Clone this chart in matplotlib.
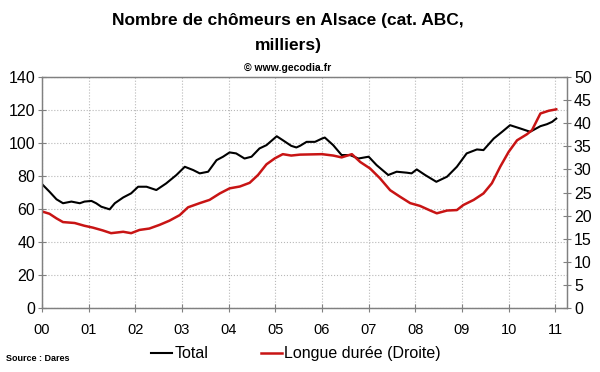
# Chômeurs en Alsace : total (gauche) et longue durée (droite)

import matplotlib.pyplot as plt

plt.rcParams['font.family'] = ['Liberation Sans', 'DejaVu Sans']

# Total, milliers (axe gauche), x en années depuis janvier 2000
total_x = [0.0, 0.16, 0.31, 0.45, 0.63, 0.81, 0.91, 1.06, 1.16, 1.27, 1.45, 1.56,
           1.74, 1.91, 2.06, 2.24, 2.45, 2.66, 2.88, 3.06, 3.24, 3.38, 3.56, 3.74,
           3.88, 4.02, 4.16, 4.34, 4.49, 4.66, 4.81, 5.03, 5.16, 5.34, 5.45, 5.53,
           5.67, 5.85, 6.0, 6.06, 6.24, 6.42, 6.6, 6.78, 7.0, 7.17, 7.42, 7.6,
           7.82, 7.92, 8.03, 8.21, 8.45, 8.68, 8.89, 9.1, 9.32, 9.46, 9.68, 9.86,
           10.03, 10.25, 10.46, 10.68, 10.82, 10.93, 11.02]
total = [75.1, 70.5, 65.9, 63.5, 64.5, 63.5, 64.5, 64.9, 63.5, 61.4, 59.8, 63.5,
         67.0, 69.5, 73.5, 73.5, 71.5, 75.5, 80.6, 85.6, 83.6, 81.6, 82.6, 89.6,
         91.7, 94.3, 93.7, 90.6, 91.7, 96.7, 98.7, 104.1, 101.7, 98.3, 97.3, 98.3,
         100.7, 100.7, 102.7, 103.3, 98.7, 92.7, 92.7, 90.6, 91.7, 86.6, 80.6, 82.6,
         82.0, 81.6, 84.0, 80.6, 76.5, 79.6, 85.6, 93.7, 96.1, 95.7, 102.7, 106.8,
         110.8, 108.8, 106.8, 110.2, 111.4, 112.8, 114.8]

# Longue durée, milliers (axe droit)
ld_x = [0.0, 0.16, 0.31, 0.45, 0.7, 0.91, 1.09, 1.3, 1.48, 1.74, 1.91, 2.09,
        2.3, 2.52, 2.73, 2.95, 3.13, 3.38, 3.59, 3.81, 4.02, 4.24, 4.45, 4.63,
        4.81, 4.99, 5.16, 5.34, 5.53, 6.0, 6.24, 6.42, 6.64, 6.82, 7.03, 7.24,
        7.46, 7.67, 7.89, 8.1, 8.32, 8.46, 8.68, 8.89, 9.03, 9.25, 9.46, 9.64,
        9.82, 10.0, 10.18, 10.39, 10.5, 10.68, 10.86, 11.02]
longue_duree = [20.9, 20.4, 19.4, 18.6, 18.4, 17.8, 17.4, 16.8, 16.2, 16.5, 16.2, 16.9,
                17.2, 18.0, 18.9, 20.1, 21.8, 22.7, 23.4, 24.8, 25.9, 26.3, 27.1, 28.8,
                31.1, 32.4, 33.3, 33.0, 33.2, 33.3, 33.0, 32.6, 33.3, 31.6, 30.2, 28.1,
                25.5, 24.1, 22.7, 22.1, 21.1, 20.5, 21.1, 21.2, 22.3, 23.4, 24.8, 27.0,
                30.6, 33.8, 36.3, 37.6, 38.5, 42.1, 42.7, 43.0]

year_labels = ['00', '01', '02', '03', '04', '05', '06', '07', '08', '09', '10', '11']

fig = plt.figure(figsize=(6, 3.72), dpi=100)
ax = fig.add_axes([0.07, 0.172, 0.875, 0.621])
ax2 = ax.twinx()

l1, = ax.plot(total_x, total, color='black', lw=1.5, label='Total')
l2, = ax2.plot(ld_x, longue_duree, color='#c81414', lw=1.8, label='Longue durée (Droite)')

ax.set_xlim(0, 11.25)
ax.set_ylim(0, 140)
ax2.set_ylim(0, 50)
ax.set_xticks(range(len(year_labels)))
ax.set_xticklabels(year_labels, fontsize=10.5)
ax.set_yticks(range(0, 141, 20))
ax2.set_yticks(range(0, 51, 5))
ax.tick_params(axis='y', labelsize=11.5, direction='inout', length=6, color='#808080', pad=2)
ax.tick_params(axis='x', direction='inout', length=6, color='#808080', pad=8)
ax2.tick_params(axis='y', labelsize=11.5, direction='inout', length=6, color='#808080', pad=2)

ax.grid(True, ls=':', color='#b8b8b8', lw=0.8)
for a in (ax, ax2):
    for s in a.spines.values():
        s.set_color('#808080')
        s.set_linewidth(0.9)

fig.text(0.48, 0.945, 'Nombre de chômeurs en Alsace (cat. ABC,', ha='center', va='center',
         fontsize=12.5, fontweight='bold')
fig.text(0.48, 0.878, 'milliers)', ha='center', va='center', fontsize=12.5, fontweight='bold')
fig.text(0.48, 0.818, '© www.gecodia.fr', ha='center', va='center', fontsize=7.5, fontweight='bold')
fig.text(0.01, 0.035, 'Source : Dares', ha='left', va='center', fontsize=6.5, fontweight='bold')

fig.legend(handles=[l1, l2], loc='center', bbox_to_anchor=(0.493, 0.049), ncol=2,
           frameon=False, fontsize=11.5, handlelength=1.3, handletextpad=0.15,
           columnspacing=3.3)

plt.savefig('out.png', dpi=100)
